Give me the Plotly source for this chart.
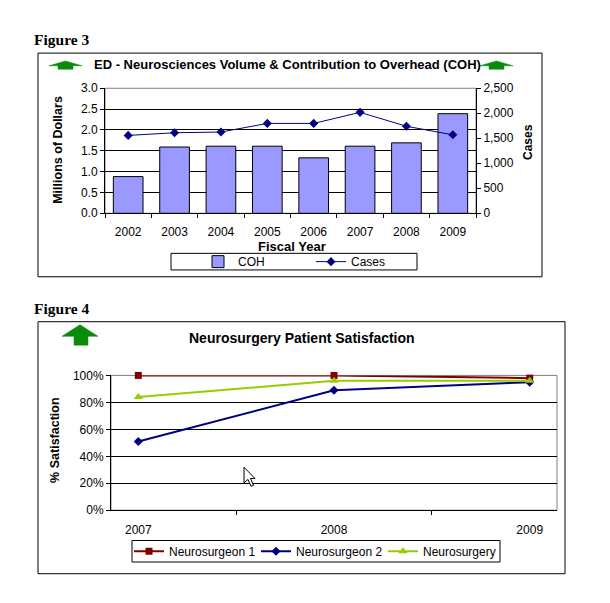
import plotly.graph_objects as go

# ---------------- data ----------------
years3 = ["2002", "2003", "2004", "2005", "2006", "2007", "2008", "2009"]
coh = [0.88, 1.59, 1.61, 1.61, 1.33, 1.61, 1.69, 2.39]          # millions of dollars
cases = [1557, 1610, 1625, 1797, 1797, 2018, 1740, 1569]        # cases

years4 = ["2007", "2008", "2009"]
neurosurgeon1 = [1.00, 1.00, 0.98]
neurosurgeon2 = [0.51, 0.89, 0.95]
neurosurgery = [0.84, 0.96, 0.96]

coh_ticks = [0, 0.5, 1.0, 1.5, 2.0, 2.5, 3.0]
cases_ticks = [0, 500, 1000, 1500, 2000, 2500]
pct_ticks = [0, 0.2, 0.4, 0.6, 0.8, 1.0]

W, H = 610, 603
SANS = "Liberation Sans, Arial, sans-serif"
SERIF = "Liberation Serif, Times New Roman, serif"


def px(x):
    return x / W


def py(y):
    return 1 - y / H


fig = go.Figure()

# ---- Figure 3 traces ----
fig.add_trace(go.Bar(
    x=years3, y=coh, name="COH", width=0.64,
    marker=dict(color="#9999FF", line=dict(color="black", width=1)),
    xaxis="x", yaxis="y", legend="legend"))
fig.add_trace(go.Scatter(
    x=years3, y=cases, name="Cases", mode="lines+markers",
    line=dict(color="#000080", width=1),
    marker=dict(symbol="diamond", size=7, color="#000080"),
    xaxis="x", yaxis="y2", legend="legend", cliponaxis=False))

# ---- Figure 4 traces ----
fig.add_trace(go.Scatter(
    x=years4, y=neurosurgeon1, name="Neurosurgeon 1", mode="lines+markers",
    line=dict(color="#800000", width=2),
    marker=dict(symbol="square", size=7, color="#800000"),
    xaxis="x2", yaxis="y3", legend="legend2", cliponaxis=False))
fig.add_trace(go.Scatter(
    x=years4, y=neurosurgeon2, name="Neurosurgeon 2", mode="lines+markers",
    line=dict(color="#000080", width=2),
    marker=dict(symbol="diamond", size=7, color="#000080"),
    xaxis="x2", yaxis="y3", legend="legend2", cliponaxis=False))
fig.add_trace(go.Scatter(
    x=years4, y=neurosurgery, name="Neurosurgery", mode="lines+markers",
    line=dict(color="#99CC00", width=2),
    marker=dict(symbol="triangle-up", size=8, color="#99CC00"),
    xaxis="x2", yaxis="y3", legend="legend2", cliponaxis=False))

tickfont = dict(family=SANS, size=12, color="black")
common_x = dict(type="category", showline=True, linecolor="black", linewidth=1,
                ticks="outside", tickson="boundaries", ticklen=4, tickcolor="black",
                showgrid=False, tickfont=tickfont)
common_y = dict(showline=True, linecolor="black", linewidth=1, ticks="outside",
                ticklen=4, tickcolor="black", tickfont=tickfont, zeroline=False,
                showgrid=False)
# overlay axes that only carry the inner black gridlines (plot-area border stays gray)
grid_y = dict(showline=False, ticks="", showticklabels=False, zeroline=False,
              showgrid=True, gridcolor="black", gridwidth=1)

legend_common = dict(xanchor="left", yanchor="middle", orientation="h",
                     bgcolor="rgba(0,0,0,0)", borderwidth=0,
                     font=dict(family=SANS, size=12, color="black"),
                     entrywidthmode="pixels")

fig.update_layout(
    width=W, height=H, margin=dict(l=0, r=0, t=0, b=0),
    paper_bgcolor="white", plot_bgcolor="white",
    font=dict(family=SANS, size=12, color="black"),
    xaxis=dict(domain=[px(97), px(468)], anchor="y", ticklabelstandoff=7, **common_x),
    yaxis=dict(domain=[py(203), py(75)], anchor="x", range=[0, 3],
               tickvals=coh_ticks, tickformat=".1f", **common_y),
    yaxis2=dict(overlaying="y", side="right", anchor="x", range=[0, 2500],
                tickvals=cases_ticks, tickformat=",d", **common_y),
    yaxis4=dict(overlaying="y", anchor="x", range=[0, 3], tickvals=coh_ticks[1:-1], **grid_y),
    xaxis2=dict(domain=[px(103), px(549)], anchor="y3", ticklabelstandoff=8, **common_x),
    yaxis3=dict(domain=[py(507), py(369)], anchor="x2", range=[0, 1],
                tickvals=pct_ticks, tickformat=".0%", **common_y),
    yaxis5=dict(overlaying="y3", anchor="x2", range=[0, 1], tickvals=pct_ticks[1:-1], **grid_y),
    legend=dict(x=px(190), y=py(252.5), entrywidth=68, **legend_common),
    legend2=dict(x=px(121), y=py(549), entrywidth=82, **legend_common),
)

# invisible helper traces so the gridline overlay axes are drawn
fig.add_trace(go.Scatter(x=[years3[0]], y=[None], xaxis="x", yaxis="y4", showlegend=False,
                         hoverinfo="skip", mode="markers"))
fig.add_trace(go.Scatter(x=[years4[0]], y=[None], xaxis="x2", yaxis="y5", showlegend=False,
                         hoverinfo="skip", mode="markers"))

shapes = []
# plot area gray borders (under gridlines / traces)
shapes.append(dict(type="rect", xref="x domain", yref="y domain", x0=0, y0=0, x1=1, y1=1,
                   line=dict(color="#808080", width=1), layer="below"))
shapes.append(dict(type="rect", xref="x2 domain", yref="y3 domain", x0=0, y0=0, x1=1, y1=1,
                   line=dict(color="#808080", width=1), layer="below"))
# outer frames and legend frames
for (x0, y0, x1, y1) in [(30, 39, 534, 268), (30, 314, 557, 572),
                         (163, 244, 409, 261), (124, 538, 492, 560)]:
    shapes.append(dict(type="rect", xref="paper", yref="paper",
                       x0=px(x0), y0=py(y1), x1=px(x1), y1=py(y0),
                       line=dict(color="black", width=1), layer="above"))


def arrow(xl, xr, tip_y, base_y, sl, sr, bottom):
    xm = (xl + xr) / 2
    pts = [(xm, tip_y), (xr, base_y), (sr, base_y), (sr, bottom), (sl, bottom), (sl, base_y), (xl, base_y)]
    path = "M " + " L ".join(f"{px(a):.5f},{py(b):.5f}" for a, b in pts) + " Z"
    return dict(type="path", xref="paper", yref="paper", path=path, layer="above",
                fillcolor="#0B8A0B", line=dict(color="#0B8A0B", width=0.5))


shapes.append(arrow(41, 74, 47, 52, 50, 65, 55.5))
shapes.append(arrow(472, 505, 47, 52, 481, 496, 55.5))
shapes.append(arrow(54, 90, 317, 329, 66, 80, 338))

# mouse pointer captured in the screenshot
cur = [(236, 463), (236, 479), (240, 475.5), (243, 482.5), (245.5, 481.5), (242.5, 474.5), (247, 474.5)]
shapes.append(dict(type="path", xref="paper", yref="paper",
                   path="M " + " L ".join(f"{px(a):.5f},{py(b):.5f}" for a, b in cur) + " Z",
                   fillcolor="white", line=dict(color="black", width=1), layer="above"))
fig.update_layout(shapes=shapes)

ann = []


def text(t, x, y, size, bold=True, family=SANS, angle=0, xanchor="center"):
    ann.append(dict(text=f"<b>{t}</b>" if bold else t, x=px(x), y=py(y), xref="paper", yref="paper",
                    showarrow=False, xanchor=xanchor, yanchor="middle", textangle=angle,
                    font=dict(family=family, size=size, color="black")))


text("Figure 3", 24, 25, 15.5, family=SERIF, xanchor="left")
text("Figure 4", 24, 300, 15.5, family=SERIF, xanchor="left")
text("ED - Neurosciences Volume &amp; Contribution to Overhead (COH)", 279, 51, 13)
text("Neurosurgery Patient Satisfaction", 294, 331, 14)
text("Millions of Dollars", 50, 138, 12.5, angle=-90)
text("Cases", 520, 130, 12, angle=-90)
text("Fiscal Year", 284, 237, 13)
text("% Satisfaction", 47, 436, 12.5, angle=-90)
fig.update_layout(annotations=ann)

fig.write_html("out.html")
